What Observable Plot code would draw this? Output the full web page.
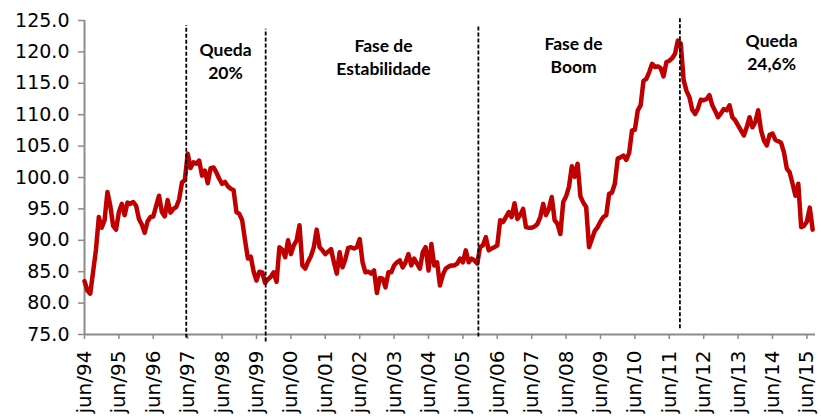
<!DOCTYPE html>
<html><head><meta charset="utf-8">
<script src="https://cdn.jsdelivr.net/npm/d3@7"></script>
<script src="https://cdn.jsdelivr.net/npm/@observablehq/plot@0.6"></script>
<style>body{margin:0;background:#fff}</style>
</head><body><div id="chart"></div>
<script>
// Monthly index values, starting jun/94 (one row per year, jun..may)
const values = [
  83.5, 82.0, 81.5, 85.0, 88.5, 93.7, 92.0, 93.2, 97.7, 95.5, 92.3, 91.7,
  94.5, 95.8, 94.0, 96.0, 95.8, 96.1, 95.5, 93.4, 92.5, 91.2, 93.0, 93.7,
  93.8, 95.5, 97.1, 94.5, 93.8, 96.4, 94.4, 95.0, 95.3, 96.5, 99.2, 99.6,
  103.8, 101.5, 102.4, 102.2, 102.7, 100.3, 101.1, 99.1, 101.5, 101.6, 100.8, 99.8,
  99.0, 99.3, 98.6, 98.2, 98.0, 94.5, 94.2, 93.2, 90.0, 87.1, 87.4, 85.0,
  83.6, 85.0, 84.9, 83.2, 83.8, 84.2, 84.9, 83.4, 88.9, 88.5, 87.3, 90.0,
  87.8, 89.2, 90.0, 92.4, 86.0, 85.5, 86.6, 87.5, 88.9, 91.7, 88.9, 88.4,
  87.8, 88.2, 88.6, 86.5, 84.7, 88.1, 85.7, 87.0, 88.8, 88.9, 88.7, 88.9,
  90.2, 86.5, 84.9, 85.0, 84.7, 85.2, 81.6, 84.0, 83.9, 82.5, 84.9, 84.9,
  86.0, 86.5, 86.8, 85.7, 86.5, 87.8, 86.0, 87.1, 86.3, 85.5, 88.1, 88.9,
  85.2, 89.4, 86.0, 86.5, 82.8, 84.5, 85.5, 85.8, 86.0, 86.0, 86.3, 87.1,
  86.5, 88.4, 86.5, 87.1, 86.8, 86.3, 88.9, 89.2, 90.5, 88.4, 88.7, 88.9,
  89.2, 93.2, 92.9, 93.7, 94.5, 93.7, 95.9, 93.4, 94.0, 95.0, 92.1, 92.0,
  92.0, 92.2, 92.6, 93.7, 95.8, 94.0, 95.0, 96.9, 93.2, 92.6, 91.0, 96.1,
  97.0, 98.5, 101.8, 100.1, 102.2, 97.0, 96.0, 95.3, 88.9, 90.2, 91.5, 92.1,
  93.0, 93.7, 94.0, 97.4, 97.6, 99.0, 103.0, 103.2, 103.5, 102.8, 103.9, 107.5,
  107.6, 110.7, 111.5, 115.4, 115.7, 116.8, 118.1, 117.6, 117.7, 117.4, 116.1, 118.4,
  118.6, 119.0, 119.7, 121.8, 121.3, 115.5, 113.8, 112.8, 110.8, 110.1, 111.0, 112.4,
  112.3, 112.5, 113.1, 111.5, 110.6, 109.6, 110.2, 110.9, 110.7, 111.5, 109.6, 109.1,
  108.3, 107.5, 106.7, 108.0, 109.6, 108.0, 108.8, 110.7, 107.5, 105.9, 105.1, 106.8,
  107.0, 106.0, 105.8, 105.5, 104.0, 101.4, 100.8, 99.0, 97.1, 99.0, 92.1, 92.3,
  93.0, 95.2, 91.7
];
const tickYears = ["94","95","96","97","98","99","00","01","02","03","04","05","06","07","08","09","10","11","12","13","14","15"];
const yTicks = [75, 80, 85, 90, 95, 100, 105, 110, 115, 120, 125];
// dashed phase separators (month index from jun/94)
const eventX = [35.5, 63.2, 137.4, 207.7];
const eventTop = [124.2, 123.6, 124.2, 125.5];
const eventBottom = [74.4, 73.8, 74.6, 75.9];
// phase labels
const noteText = ["Queda\n20%", "Fase de\nEstabilidade", "Fase de\nBoom", "Queda\n24,6%"];
const noteX = [49.2, 104.3, 170.6, 239.7];
const noteY = [118.7, 119.35, 119.6, 120.1];

const data = values.map((v, i) => ({m: i, v}));
const events = eventX.map((x, i) => ({x, y1: eventBottom[i], y2: eventTop[i]}));
const notes = noteText.map((t, i) => ({t, x: noteX[i], y: noteY[i]}));
const xTicks = tickYears.map((_, i) => i * 12);

const chart = Plot.plot({
  width: 821, height: 416,
  marginLeft: 84, marginRight: 6, marginTop: 20, marginBottom: 82,
  x: {domain: [0, 255]},
  y: {domain: [75, 125]},
  style: {fontFamily: "DejaVu Sans", background: "#fff", color: "#000"},
  marks: [
    Plot.axisY({ticks: yTicks, tickFormat: d3.format(".1f"), tickSize: 6, tickPadding: 9,
      stroke: "#8c8c8c", strokeWidth: 1.5, fill: "#000", fontSize: 19, label: null}),
    Plot.axisX({ticks: xTicks, tickFormat: d => "jun/" + tickYears[Math.round(d / 12)], tickRotate: -90,
      tickSize: 5, tickPadding: 11, stroke: "#8c8c8c", strokeWidth: 1.5, fill: "#000", fontSize: 20, label: null}),
    Plot.ruleX([0], {y1: 75, y2: 125, stroke: "#8c8c8c", strokeWidth: 2}),
    Plot.ruleY([75], {x1: 0, x2: 255, stroke: "#8c8c8c", strokeWidth: 2}),
    Plot.line(data, {x: "m", y: "v", stroke: "#c00000", strokeWidth: 4.5, strokeLinejoin: "round", strokeLinecap: "round"}),
    Plot.ruleX(events, {x: "x", y1: "y1", y2: "y2", stroke: "#000", strokeWidth: 1.8, strokeDasharray: "4,2"}),
    Plot.text(notes, {x: "x", y: "y", text: "t", fontFamily: "Lato", fontWeight: "bold", fontSize: 17.5,
      lineHeight: 1.3, fill: "#000", lineAnchor: "middle"})
  ]
});
document.getElementById("chart").appendChild(chart);
</script>
</body></html>
